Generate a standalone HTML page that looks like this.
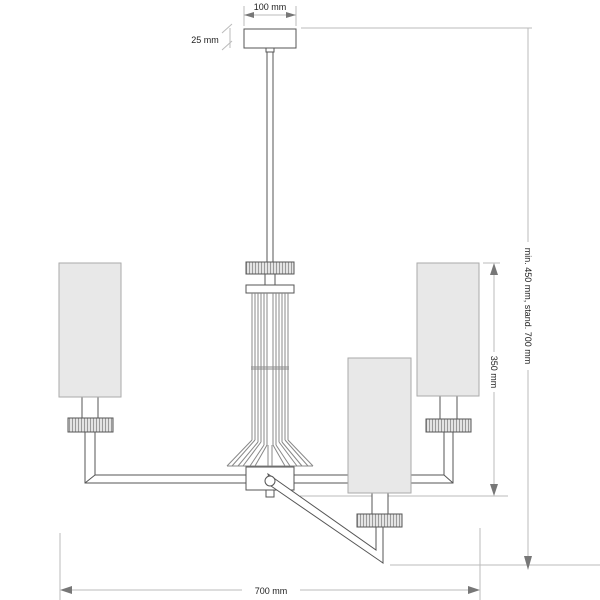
<!DOCTYPE html>
<html><head><meta charset="utf-8"><style>
html,body{margin:0;padding:0;background:#fff;}
svg{display:block;font-family:"Liberation Sans",sans-serif;}
</style></head><body>
<svg width="600" height="600" viewBox="0 0 600 600" xmlns="http://www.w3.org/2000/svg">
<defs>
<pattern id="g" width="3" height="10" patternUnits="userSpaceOnUse">
<rect width="3" height="10" fill="#e4e4e4"/><line x1="0.5" y1="0" x2="0.5" y2="10" stroke="#888" stroke-width="0.8"/>
</pattern>
</defs>
<g stroke="#bbb" stroke-width="1" fill="none">
<line x1="301" y1="28" x2="532" y2="28"/>
<line x1="244" y1="6" x2="244" y2="26"/><line x1="296" y1="6" x2="296" y2="26"/>
<line x1="244" y1="15" x2="296" y2="15"/>
<line x1="222" y1="33" x2="232" y2="24"/><line x1="222" y1="50" x2="232" y2="41"/><line x1="230" y1="28" x2="230" y2="48"/>
<line x1="528" y1="28" x2="528" y2="242"/><line x1="528" y1="370" x2="528" y2="560"/>
<line x1="390" y1="565" x2="600" y2="565"/>
<line x1="483" y1="263" x2="500" y2="263"/>
<line x1="494" y1="270" x2="494" y2="352"/><line x1="494" y1="392" x2="494" y2="490"/>
<line x1="300" y1="496" x2="508" y2="496"/>
<line x1="60" y1="533" x2="60" y2="600"/><line x1="480" y1="528" x2="480" y2="600"/>
<line x1="65" y1="590" x2="242" y2="590"/><line x1="300" y1="590" x2="475" y2="590"/>
</g>
<g fill="#777">
<polygon points="244,15 254,12 254,18"/><polygon points="296,15 286,12 286,18"/>
<polygon points="528,570 524,556 532,556"/>
<polygon points="494,263 490,275 498,275"/><polygon points="494,496 490,484 498,484"/>
<polygon points="60,590 72,586 72,594"/><polygon points="480,590 468,586 468,594"/>
</g>
<g fill="#222" font-size="9">
<text x="270" y="10" text-anchor="middle">100 mm</text>
<text x="205" y="43" text-anchor="middle">25 mm</text>
<text x="271" y="594" text-anchor="middle">700 mm</text>
<text transform="translate(525,306) rotate(90)" text-anchor="middle">min. 450 mm, stand. 700 mm</text>
<text transform="translate(491,372) rotate(90)" text-anchor="middle">350 mm</text>
</g>
<g stroke="#555" stroke-width="1" fill="#fff">
<rect x="244" y="29" width="52" height="19"/>
<rect x="266" y="48" width="8" height="4"/>
<rect x="267" y="52" width="6" height="210"/>
<rect x="246" y="262" width="48" height="12" fill="url(#g)"/>
<rect x="265" y="274" width="10" height="11"/>
<rect x="246" y="285" width="48" height="8"/>
<g fill="none" stroke="#888">
<line x1="252" y1="293" x2="252" y2="440"/><line x1="255" y1="293" x2="255" y2="440"/>
<line x1="258" y1="293" x2="258" y2="442"/><line x1="261" y1="293" x2="261" y2="442"/>
<line x1="264" y1="293" x2="264" y2="445"/><line x1="267" y1="293" x2="267" y2="445"/>
<line x1="273" y1="293" x2="273" y2="445"/><line x1="276" y1="293" x2="276" y2="445"/>
<line x1="279" y1="293" x2="279" y2="442"/><line x1="282" y1="293" x2="282" y2="442"/>
<line x1="285" y1="293" x2="285" y2="440"/><line x1="288" y1="293" x2="288" y2="440"/>
<line x1="251" y1="367" x2="289" y2="367"/><line x1="251" y1="369" x2="289" y2="369"/>
<line x1="252" y1="440" x2="227" y2="466"/><line x1="255" y1="440" x2="232" y2="466"/>
<line x1="258" y1="442" x2="238" y2="466"/><line x1="261" y1="442" x2="243" y2="466"/>
<line x1="264" y1="445" x2="250" y2="466"/><line x1="267" y1="445" x2="255" y2="466"/>
<line x1="273" y1="445" x2="285" y2="466"/><line x1="276" y1="445" x2="290" y2="466"/>
<line x1="279" y1="442" x2="297" y2="466"/><line x1="282" y1="442" x2="302" y2="466"/>
<line x1="285" y1="440" x2="308" y2="466"/><line x1="288" y1="440" x2="313" y2="466"/>
<line x1="227" y1="466" x2="313" y2="466"/>
<line x1="268" y1="445" x2="268" y2="467"/><line x1="272" y1="445" x2="272" y2="467"/>
</g>
<polygon points="85,432 95,432 95,475 246,475 246,483 85,483"/>
<line x1="85" y1="483" x2="95" y2="475"/>
<rect x="82" y="397" width="16" height="21"/>
<rect x="68" y="418" width="45" height="14" fill="url(#g)"/>
<rect x="59" y="263" width="62" height="134" fill="#e8e8e8" stroke="#aaa"/>
<polygon points="294,475 444,475 444,432 453,432 453,483 294,483"/>
<line x1="444" y1="475" x2="453" y2="483"/>
<rect x="440" y="396" width="17" height="23"/>
<rect x="426" y="419" width="45" height="13" fill="url(#g)"/>
<rect x="417" y="263" width="62" height="133" fill="#e8e8e8" stroke="#aaa"/>
<rect x="246" y="467" width="48" height="23"/>
<rect x="266" y="490" width="8" height="7"/>
<polygon points="268,474 376,550 376,527 383,527 383,563 271,486"/>
<circle cx="270" cy="481" r="5"/>
<rect x="372" y="493" width="16" height="21"/>
<rect x="357" y="514" width="45" height="13" fill="url(#g)"/>
<rect x="348" y="358" width="63" height="135" fill="#e8e8e8" stroke="#aaa"/>
</g>
</svg>
</body></html>
